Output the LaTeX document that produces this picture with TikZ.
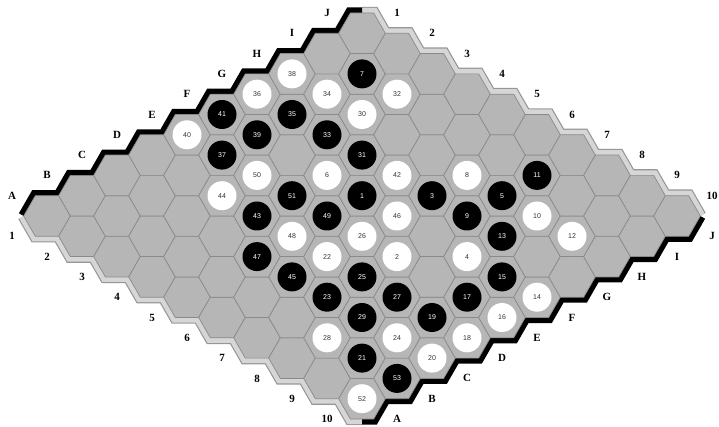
\documentclass[tikz,border=0pt]{standalone}
\usepackage{fontspec}
\setmainfont{Liberation Serif}
\newfontfamily\stonefont{Liberation Sans}
\usepackage{tikz}
\definecolor{cellgray}{RGB}{182,182,182}
\definecolor{celledge}{RGB}{138,138,138}
\definecolor{rimlight}{RGB}{214,214,214}
\definecolor{rimedge}{RGB}{150,150,150}

\begin{document}
\begin{tikzpicture}[x=1pt, y=-1pt,
    cell/.style={fill=cellgray, draw=celledge, line width=0.7pt},
    darkrim/.style={draw=black, line width=11pt},
    lightrimout/.style={draw=rimedge, line width=12.4pt},
    lightrim/.style={draw=rimlight, line width=10pt},
    bstone/.style={circle, fill=black, text=white, minimum size=29pt, inner sep=0pt,
                   font=\stonefont\fontsize{7}{8}\selectfont},
    wstone/.style={circle, fill=white, text=black!80, minimum size=29pt, inner sep=0pt,
                   font=\stonefont\fontsize{7}{8}\selectfont},
    edgelabel/.style={inner sep=0pt, font=\bfseries\fontsize{11}{12}\selectfont}]
  \useasboundingbox (0,0) rectangle (719,427);

  % white player's edges
  \foreach \rimstyle in {lightrimout, lightrim} {
    \draw[\rimstyle] (362,13)
      \foreach \n in {0,...,9} { -- ({373.67+35*\n},{13+20.3*\n}) -- ({385.33+35*\n},{33.3+20.3*\n}) };
    \draw[\rimstyle] (23.67,216)
      \foreach \n in {0,...,8} { -- ({35.33+35*\n},{236.3+20.3*\n}) -- ({58.67+35*\n},{236.3+20.3*\n}) }
      -- (350.33,419) -- (362,419);
  }
  % black player's edges
  \draw[darkrim] (23.67,216)
    \foreach \l in {0,...,8} { -- ({35.33+35*\l},{195.7-20.3*\l}) -- ({58.67+35*\l},{195.7-20.3*\l}) }
    -- (350.33,13) -- (362,13);
  \draw[darkrim] (362,419)
    \foreach \l in {0,...,9} { -- ({373.67+35*\l},{419-20.3*\l}) -- ({385.33+35*\l},{398.7-20.3*\l}) };

  \foreach \l in {0,...,9} {
    \foreach \n in {0,...,9} {
      \pgfmathsetmacro\cx{47+35*(\l+\n)}
      \pgfmathsetmacro\cy{216+20.3*(\n-\l)}
      \draw[cell] (\cx,\cy) +(-23.33,0) -- +(-11.67,-20.3) -- +(11.67,-20.3)
        -- +(23.33,0) -- +(11.67,20.3) -- +(-11.67,20.3) -- cycle;
    }
  }

  \foreach \k/\l/\n in {1/5/4, 2/4/6, 3/6/5, 4/5/7, 5/7/6, 6/5/3, 7/8/1, 8/7/5, 9/6/6,
      10/7/7, 11/8/6, 12/7/8, 13/6/7, 14/5/9, 15/5/8, 16/4/9, 17/4/8, 18/3/9, 19/3/8,
      20/2/9, 21/1/8, 22/3/5, 23/2/6, 24/2/8, 25/3/6, 26/4/5, 27/3/7, 28/1/7, 29/2/7,
      30/7/2, 31/6/3, 32/8/2, 33/6/2, 34/7/1, 35/6/1, 36/6/0, 37/4/1, 38/7/0, 39/5/1,
      40/4/0, 41/5/0, 42/6/4, 43/3/3, 44/3/2, 45/2/5, 46/5/5, 47/2/4, 48/3/4, 49/4/4,
      50/4/2, 51/4/3, 52/0/9, 53/1/9} {
    \ifodd\k\relax \def\stone{bstone}\else \def\stone{wstone}\fi
    \node[\stone] (s\k) at ({47+35*(\l+\n)},{216+20.3*(\n-\l)}) {\k};
  }

  \foreach \t [count=\i from 0] in {A,B,C,D,E,F,G,H,I,J} {
    \node[edgelabel] (top\t) at ({12+35*\i},{195.7-20.3*\i}) {\t};
    \node[edgelabel] (bot\t) at ({397+35*\i},{419-20.3*\i}) {\t};
  }
  \foreach \i in {1,...,10} {
    \node[edgelabel] (left\i) at ({-23+35*\i},{216+20.3*\i}) {\i};
    \node[edgelabel] (right\i) at ({362+35*\i},{-7.3+20.3*\i}) {\i};
  }
\end{tikzpicture}
\end{document}
